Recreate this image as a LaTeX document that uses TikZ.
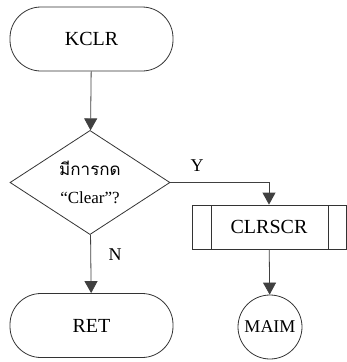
\documentclass[tikz,border=0pt]{standalone}
\usepackage{fontspec}
\setmainfont{Liberation Serif}
\newfontfamily\thaifont[Script=Thai]{Loma}
\usetikzlibrary{shapes.geometric, arrows.meta, positioning, calc}

\begin{document}
\begin{tikzpicture}[
    x=1pt, y=-1pt,
    term/.style={rectangle, rounded corners=31pt, draw=black!80, line width=0.8pt, minimum width=163pt, minimum height=64pt, font=\fontsize{20}{24}\selectfont},
    decision/.style={diamond, draw=black!80, line width=0.8pt, minimum width=160pt, minimum height=95pt, inner sep=0pt, align=center, font=\fontsize{17}{30}\selectfont},
    subproc/.style={rectangle, draw=black!80, line width=0.8pt, minimum width=154pt, minimum height=44pt, font=\fontsize{20}{24}\selectfont,
        path picture={
            \draw[black!80, line width=0.8pt] ([xshift=19pt]path picture bounding box.north west) -- ([xshift=19pt]path picture bounding box.south west);
            \draw[black!80, line width=0.8pt] ([xshift=-18pt]path picture bounding box.north east) -- ([xshift=-18pt]path picture bounding box.south east);
        }},
    connector/.style={circle, draw=black!80, line width=0.8pt, minimum size=64pt, inner sep=0pt, font=\fontsize{18}{21}\selectfont},
    flow/.style={-{Triangle[length=12pt, width=13pt]}, draw=black!75, line width=0.8pt},
    lbl/.style={font=\fontsize{18}{21}\selectfont}
]
\useasboundingbox (0,0) rectangle (346,362);

% Terminals
\node[term] (kclr) at (91.5, 39) {KCLR};
\node[term] (ret) at (91.5, 325.5) {RET};

% Decision
\node[decision] (ask) at (90, 182.5) {{\thaifont มีการกด}\\[-2pt]“Clear”?};

% Subroutine and connector
\node[subproc] (clrscr) at (269, 227) {CLRSCR};
\node[connector] (maim) at (270, 327) {MAIM};

% Flow lines
\draw[flow] (kclr) -- (ask);
\draw[flow] (ask.east) -| (clrscr.north);
\draw[flow] (ask) -- (ret);
\draw[flow] (clrscr) -- (maim);

% Branch labels
\node[lbl] (yes) at (197, 166) {Y};
\node[lbl] (no) at (115, 255) {N};

\end{tikzpicture}
\end{document}
